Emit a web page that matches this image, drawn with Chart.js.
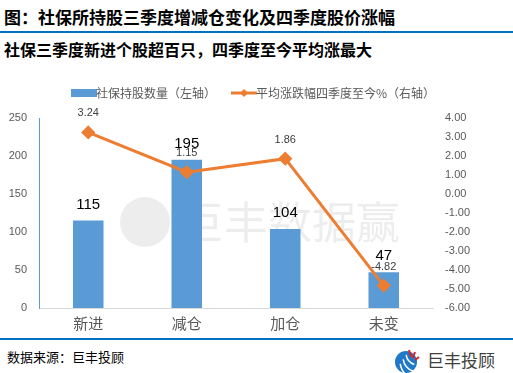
<!DOCTYPE html>
<html>
<head>
<meta charset="utf-8">
<script src="https://cdn.jsdelivr.net/npm/chart.js@4.4.0/dist/chart.umd.min.js"></script>
<style>
  body { margin: 0; width: 513px; height: 373px; background: #fff; position: relative; overflow: hidden;
         font-family: "Noto Sans CJK SC", "Noto Sans", sans-serif; }
  .title { position: absolute; left: 4px; top: 5px; font-size: 17px; font-weight: bold; color: #000; white-space: nowrap; line-height: 24px; }
  .rule { position: absolute; left: 0; width: 513px; height: 2px; background: #0070C0; }
  .sub { position: absolute; left: 4px; top: 38px; font-size: 16px; font-weight: bold; color: #000; white-space: nowrap; line-height: 22px; }
  .src { position: absolute; left: 7px; top: 347px; font-size: 13px; color: #000; line-height: 20px; }
  .brand { position: absolute; left: 427px; top: 349px; font-size: 17px; color: #404040; line-height: 22px; }
  #wrap { position: absolute; left: 0; top: 62px; width: 513px; height: 276px; }
  #logo { position: absolute; left: 394px; top: 349px; }
</style>
</head>
<body>
<div class="title">图：社保所持股三季度增减仓变化及四季度股价涨幅</div>
<div class="rule" style="top:31px"></div>
<div class="sub">社保三季度新进个股超百只，四季度至今平均涨最大</div>
<div id="wrap"><canvas id="myChart"></canvas></div>
<div class="rule" style="top:338px"></div>
<div class="src">数据来源：巨丰投顾</div>
<canvas id="logo" width="26" height="26"></canvas>
<div class="brand">巨丰投顾</div>
<script>
var categories = ["新进", "减仓", "加仓", "未变"];
var holdCount = [115, 195, 104, 47];
var avgChange = [3.24, 1.15, 1.86, -4.82];
var barLabel = "社保持股数量（左轴）";
var lineLabel = "平均涨跌幅四季度至今%（右轴）";

var blue = "#5B9BD5";
var orange = "#ED7D31";
var grey = "#595959";

// legend icons
var barIcon = document.createElement("canvas");
barIcon.width = 26; barIcon.height = 8;
var bctx = barIcon.getContext("2d");
bctx.fillStyle = blue;
bctx.fillRect(0, 0, 26, 8);

var lineIcon = document.createElement("canvas");
lineIcon.width = 26; lineIcon.height = 10;
var lctx = lineIcon.getContext("2d");
lctx.strokeStyle = orange;
lctx.lineWidth = 3;
lctx.beginPath(); lctx.moveTo(0, 5); lctx.lineTo(26, 5); lctx.stroke();
lctx.fillStyle = orange;
lctx.beginPath(); lctx.moveTo(13, 1); lctx.lineTo(17, 5); lctx.lineTo(13, 9); lctx.lineTo(9, 5); lctx.closePath(); lctx.fill();

// footer logo
var g = document.getElementById("logo").getContext("2d");
g.fillStyle = "#1f78c8";
g.beginPath(); g.arc(12, 13, 11, 0, Math.PI * 2); g.fill();
g.strokeStyle = "#fff"; g.lineWidth = 1.5;
for (var i = 0; i < 3; i++) {
  g.beginPath(); g.arc(24, 4 + i * 4, 12 + i * 3, Math.PI * 0.6, Math.PI * 0.95); g.stroke();
}
g.strokeStyle = "#e02020"; g.lineWidth = 2;
g.beginPath(); g.moveTo(15, 1); g.lineTo(17, 8); g.stroke();
g.beginPath(); g.moveTo(21, 3); g.lineTo(19, 9); g.stroke();
g.beginPath(); g.moveTo(25, 8); g.lineTo(21, 11); g.stroke();

// give the legend a bit more room below it
var legendGap = {
  id: "legendGap",
  beforeInit: function (chart) {
    var fit = chart.legend.fit;
    chart.legend.fit = function () {
      fit.call(this);
      this.height += 9;
    };
  }
};

var watermark = {
  id: "watermark",
  beforeDatasetsDraw: function (chart) {
    var ctx = chart.ctx;
    ctx.save();
    ctx.fillStyle = "rgba(0,0,0,0.07)";
    ctx.beginPath();
    ctx.arc(145, 160, 25, 0, Math.PI * 2);
    ctx.fill();
    ctx.font = "44px 'Noto Sans CJK SC'";
    ctx.textBaseline = "middle";
    ctx.fillText("巨丰数据赢", 180, 160);
    ctx.restore();
  }
};

var valueLabels = {
  id: "valueLabels",
  afterDatasetsDraw: function (chart) {
    var ctx = chart.ctx;
    ctx.save();
    ctx.textAlign = "center";
    ctx.textBaseline = "middle";
    chart.getDatasetMeta(1).data.forEach(function (el, i) {
      ctx.font = "15px 'Liberation Sans'";
      ctx.fillStyle = "#000";
      ctx.fillText(holdCount[i], el.x, el.y - 16);
    });
    chart.getDatasetMeta(0).data.forEach(function (el, i) {
      ctx.font = "11px 'Liberation Sans'";
      ctx.fillStyle = "#404040";
      ctx.fillText(avgChange[i].toFixed(2), el.x, el.y - 19);
    });
    ctx.restore();
  }
};

var canvas = document.getElementById("myChart");
var myChart = new Chart(canvas, {
  data: {
    labels: categories,
    datasets: [
      {
        type: "line",
        label: lineLabel,
        data: avgChange,
        yAxisID: "y1",
        borderColor: orange,
        backgroundColor: orange,
        borderWidth: 3,
        pointStyle: "rectRot",
        pointRadius: 5,
        tension: 0,
        order: 0
      },
      {
        type: "bar",
        label: barLabel,
        data: holdCount,
        yAxisID: "y",
        backgroundColor: blue,
        barPercentage: 0.62,
        categoryPercentage: 0.5,
        order: 1
      }
    ]
  },
  options: {
    responsive: true,
    maintainAspectRatio: false,
    animation: false,
    layout: { padding: { top: 3, left: 0, right: 0, bottom: 0 } },
    plugins: {
      tooltip: { enabled: false },
      legend: {
        reverse: true,
        labels: {
          usePointStyle: true,
          color: grey,
          font: { size: 12, family: "'Noto Sans CJK SC'" },
          padding: 22,
          generateLabels: function (chart) {
            var items = Chart.defaults.plugins.legend.labels.generateLabels(chart);
            items.forEach(function (it) {
              it.pointStyle = it.datasetIndex === 1 ? barIcon : lineIcon;
            });
            return items;
          }
        }
      }
    },
    scales: {
      x: {
        offset: true,
        grid: { display: false, drawTicks: false },
        border: { color: "#D9D9D9", width: 1 },
        ticks: { color: grey, font: { size: 15, family: "'Noto Sans CJK SC'" }, padding: 6 },
        afterFit: function (s) { s.height = 30; }
      },
      y: {
        position: "left",
        min: 0, max: 250,
        ticks: { stepSize: 50, color: grey, font: { size: 11, family: "'Liberation Sans'" }, padding: 12 },
        grid: { display: false, drawTicks: false },
        border: { color: blue, width: 1 },
        afterFit: function (s) { s.width = 39; }
      },
      y1: {
        position: "right",
        min: -6, max: 4,
        ticks: {
          stepSize: 1, color: grey, font: { size: 11, family: "'Liberation Sans'" }, padding: 12,
          callback: function (v) { return v.toFixed(2); }
        },
        grid: { display: false, drawTicks: false },
        border: { display: false },
        afterFit: function (s) { s.width = 80; }
      }
    }
  },
  plugins: [legendGap, watermark, valueLabels]
});
</script>
</body>
</html>
